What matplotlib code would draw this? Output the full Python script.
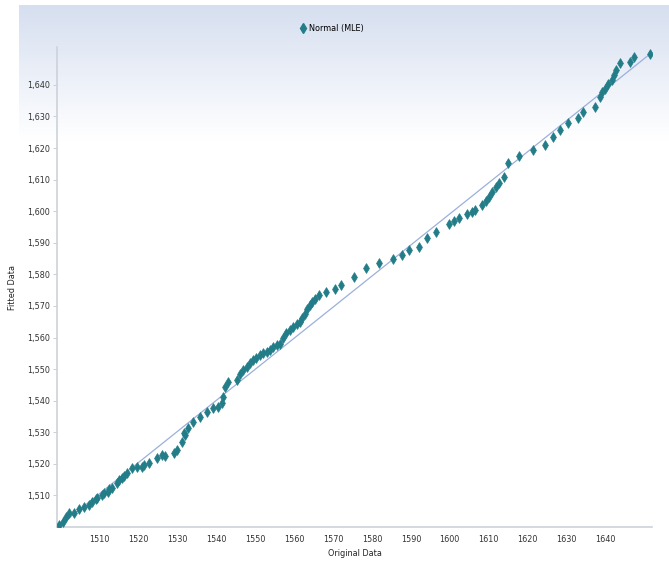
import numpy as np
import matplotlib.pyplot as plt
from matplotlib.colors import LinearSegmentedColormap
from matplotlib.ticker import FuncFormatter
from matplotlib.lines import Line2D

plt.rcParams['font.family'] = ['Liberation Sans Narrow', 'DejaVu Sans']
plt.rcParams['font.stretch'] = 'condensed'

# values (original vs fitted)
original = [1499.6, 1500.5, 1501.3, 1502.1, 1503.4, 1504.7, 1506.0, 1507.3, 1508.1, 1509.0,
            1509.4, 1510.7, 1511.1, 1512.0, 1512.4, 1513.2, 1514.5, 1514.9, 1515.8, 1516.2,
            1517.1, 1518.4, 1519.6, 1520.9, 1521.3, 1522.6, 1524.8, 1526.0, 1526.9, 1529.0,
            1529.9, 1531.2, 1531.6, 1532.0, 1532.8, 1534.1, 1535.8, 1537.5, 1539.2, 1540.5,
            1541.4, 1541.8, 1542.2, 1543.1, 1545.2, 1546.1, 1546.9, 1547.8, 1548.6, 1549.5,
            1550.3, 1551.2, 1552.0, 1552.9, 1553.7, 1554.6, 1555.5, 1556.3, 1557.1, 1558.0,
            1558.9, 1559.7, 1560.6, 1561.4, 1562.1, 1562.7, 1563.3, 1564.0, 1564.6, 1565.3,
            1566.5, 1568.2, 1570.4, 1572.1, 1575.5, 1578.5, 1581.9, 1585.3, 1587.8, 1589.6,
            1592.1, 1594.2, 1596.4, 1599.8, 1601.1, 1602.3, 1604.5, 1605.6, 1606.6, 1608.3,
            1609.2, 1610.0, 1610.9, 1611.8, 1612.6, 1613.9, 1615.1, 1617.7, 1621.5, 1624.5,
            1626.6, 1628.4, 1630.5, 1633.0, 1634.3, 1637.3, 1638.6, 1639.2, 1639.9, 1640.7,
            1641.6, 1642.2, 1642.8, 1643.7, 1646.3, 1647.5, 1651.4]
fitted = [1500.6, 1501.7, 1503.3, 1504.3, 1504.5, 1505.6, 1506.2, 1507.0, 1508.0, 1508.8,
          1509.1, 1510.1, 1510.7, 1511.2, 1511.9, 1512.2, 1513.8, 1514.9, 1515.4, 1516.1,
          1517.0, 1518.6, 1519.1, 1519.1, 1519.6, 1520.4, 1521.7, 1522.8, 1522.5, 1523.5,
          1524.4, 1527.0, 1529.7, 1529.1, 1531.2, 1533.3, 1534.9, 1536.5, 1537.6, 1538.1,
          1539.2, 1541.2, 1544.4, 1546.0, 1546.5, 1548.6, 1549.7, 1550.7, 1551.8, 1552.9,
          1553.6, 1554.4, 1555.0, 1555.5, 1556.2, 1556.9, 1557.6, 1558.1, 1559.7, 1561.3,
          1562.4, 1563.4, 1564.2, 1565.0, 1566.1, 1567.6, 1569.0, 1570.3, 1571.2, 1572.1,
          1573.4, 1574.5, 1575.5, 1576.6, 1579.2, 1581.9, 1583.5, 1585.0, 1586.1, 1587.7,
          1588.7, 1591.4, 1593.5, 1596.1, 1596.8, 1597.7, 1599.1, 1599.7, 1600.3, 1601.9,
          1603.2, 1604.5, 1606.1, 1607.6, 1608.8, 1610.9, 1615.2, 1617.4, 1619.3, 1620.9,
          1623.5, 1625.7, 1627.8, 1629.4, 1631.4, 1633.0, 1636.2, 1637.7, 1638.8, 1640.2,
          1641.5, 1643.1, 1644.6, 1646.8, 1647.3, 1648.8, 1649.7]

# reference line endpoints
fit_x = [1499.6, 1651.4]
fit_y = [1500.4, 1649.7]

ticks = list(range(1510, 1641, 10))

fig = plt.figure(figsize=(6.69, 5.63), dpi=100)

# light blue gradient panel behind the chart
bg = fig.add_axes([19 / 669, 0, 1 - 19 / 669, 1 - 5 / 563])
cmap = LinearSegmentedColormap.from_list('bg', [(0, '#d6dff0'), (0.24, '#ffffff'), (1, '#ffffff')])
grad = np.linspace(0, 1, 256).reshape(-1, 1)
bg.imshow(grad, aspect='auto', cmap=cmap, extent=[0, 1, 0, 1], origin='upper')
bg.axis('off')

ax = fig.add_axes([57 / 669, 1 - 527 / 563, (652 - 57) / 669, (527 - 47) / 563])
ax.patch.set_alpha(0)

ax.plot(fit_x, fit_y, color='#9bb0dc', lw=0.9, zorder=2)
ax.scatter(original, fitted, marker='d', s=24, color='#237d88', edgecolors='#237d88',
           linewidths=0.6, zorder=3)

ax.set_xlim(1499, 1652)
ax.set_ylim(1500, 1652)
ax.set_xticks(ticks)
ax.set_yticks(ticks)
ax.yaxis.set_major_formatter(FuncFormatter(lambda v, p: f'{int(v):,}'))

for side in ['top', 'right']:
    ax.spines[side].set_visible(False)
for side in ['left', 'bottom']:
    ax.spines[side].set_color('#cdd2da')
    ax.spines[side].set_linewidth(1.2)

ax.tick_params(axis='y', length=3, width=0.6, color='#c8c8c8', labelsize=6.5, labelcolor='#333333', pad=2)
ax.tick_params(axis='x', length=0, labelsize=6.5, labelcolor='#333333', pad=6)

ax.set_xlabel('Original Data', fontsize=6.5, color='#222222', labelpad=3)
ax.set_ylabel('Fitted Data', fontsize=6.5, color='#222222')
ax.yaxis.set_label_coords(-0.068, 0.5)

handle = Line2D([], [], marker='d', color='#237d88', linestyle='none', markersize=5)
fig.legend([handle], ['Normal (MLE)'], loc='center', bbox_to_anchor=(331 / 669, 1 - 29 / 563),
           frameon=False, fontsize=6.5, handletextpad=0.2, handlelength=1)

fig.savefig('out.png', dpi=100)
